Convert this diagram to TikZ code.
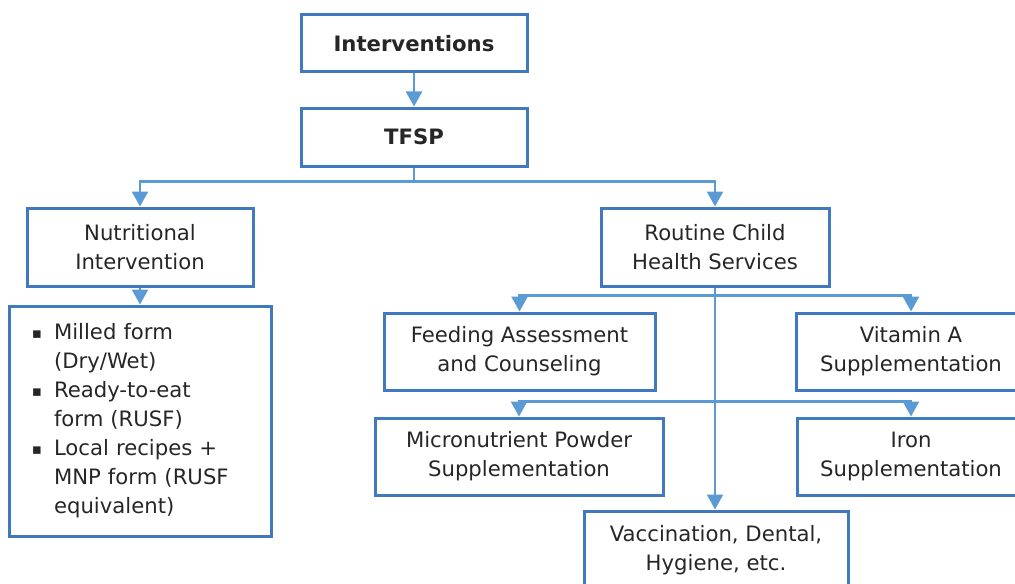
\documentclass[tikz,border=0pt]{standalone}
\usepackage{fontspec}
\setmainfont{DejaVu Sans}
\usetikzlibrary{calc, positioning, arrows.meta}

\definecolor{boxblue}{RGB}{65,121,191}
\definecolor{linkblue}{RGB}{91,155,213}
\newcommand{\lbul}{\makebox[11pt][l]{\raisebox{0.9pt}{\fontsize{7.5}{7.5}\selectfont ▪}}}
\newcommand{\lind}{\hspace*{11pt}}

\begin{document}
\begin{tikzpicture}[
        x=0.5pt, y=0.5pt,
        node distance=18pt and 20pt,
        box/.style={rectangle, draw=boxblue, line width=1.5pt,
                    minimum width=113pt, minimum height=38.5pt,
                    align=center, text=black!85, inner sep=3pt,
                    font=\fontsize{10.6}{14.5}\selectfont},
        listbox/.style={box, align=left, text width=108pt,
                    inner xsep=11.5pt, minimum height=115pt},
        arrow/.style={-{Triangle[width=8pt,length=7.5pt]}, draw=linkblue,
                      line width=1.2pt},
        link/.style={draw=linkblue, line width=1.2pt},
    ]
    \useasboundingbox (0,0) rectangle (1015,-583);

    % top chain
    \node[box, minimum height=28.5pt, font=\fontsize{10.6}{14.5}\selectfont\bfseries]
        (interv) at (414,-43.5) {Interventions};
    \node[box, minimum height=29pt, font=\fontsize{10.6}{14.5}\selectfont\bfseries,
          below=16.5pt of interv] (tfsp) {TFSP};
    \draw[arrow] (interv) -- (tfsp);

    % two branches
    \node[box, minimum height=39pt] (nutri) at (140,-247)
        {Nutritional\\Intervention};
    \node[box, minimum width=114pt, minimum height=39pt] (routine) at (715,-247)
        {Routine Child\\Health Services};
    \coordinate (tsplit) at ($(tfsp.south)+(0,-7pt)$);
    \draw[link] (tfsp.south) -- (tsplit);
    \draw[arrow] (tsplit) -| (nutri.north);
    \draw[arrow] (tsplit) -| (routine.north);

    % left: forms
    \node[listbox, below=8.5pt of nutri] (forms)
        {\lbul Milled form\\
         \lind(Dry/Wet)\\
         \lbul Ready-to-eat\\
         \lind form (RUSF)\\
         \lbul Local recipes +\\
         \lind MNP form (RUSF\\
         \lind equivalent)};
    \draw[arrow] (nutri) -- (forms);

    % right: services
    \node[box, minimum width=135.5pt] (feed) at (519.5,-351.5)
        {Feeding Assessment\\and Counseling};
    \node[box, minimum width=115pt] (vita) at (911,-351.5)
        {Vitamin A\\Supplementation};
    \node[box, minimum width=144pt] (mnp) at (519,-456.5)
        {Micronutrient Powder\\Supplementation};
    \node[box, minimum width=114pt] (iron) at (911,-456.5)
        {Iron\\Supplementation};
    \node[box, minimum width=132pt, minimum height=39.5pt] (vacc) at (716,-550.5)
        {Vaccination, Dental,\\Hygiene, etc.};

    \draw[arrow] (routine.south) -- (vacc.north -| routine.south);
    \coordinate (rsplit1) at ($(routine.south)+(0,-4pt)$);
    \draw[arrow] (rsplit1) -| (feed.north);
    \draw[arrow] (rsplit1) -| (vita.north);
    \coordinate (rsplit2) at ($(feed.south -| routine.south)+(0,-5pt)$);
    \draw[arrow] (rsplit2) -| (mnp.north);
    \draw[arrow] (rsplit2) -| (iron.north);

\end{tikzpicture}
\end{document}
